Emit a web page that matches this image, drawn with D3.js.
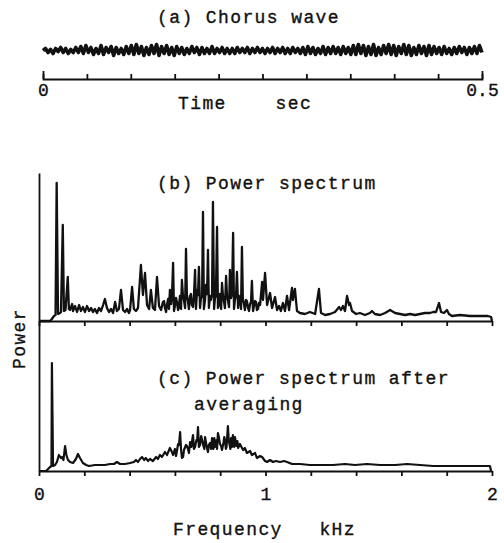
<!DOCTYPE html>
<html><head><meta charset="utf-8">
<script src="https://cdn.jsdelivr.net/npm/d3@7"></script>
<style>
html,body{margin:0;padding:0;background:#fff;}
svg text{font-family:"Liberation Mono","DejaVu Sans Mono",monospace;fill:#111;stroke:#111;stroke-width:0.35px;}
</style></head>
<body><svg id="c" width="504" height="543"></svg>
<script>
// ---------- DATA ----------
// (a) chorus waveform, relative amplitude, evenly sampled over 0..0.5 s
const waveA = [0,2,-2,1,-3,2,-1,3,-2,2,-3,1,-2,3,-2,
 4,-3,5,-2,3,-4,2,-3,5,-4,3,-2,4,-5,3,-3,2,-4,4,-3,
 5,-4,6,-3,4,-5,3,-4,5,-3,6,-5,4,-3,5,-4,3,-5,
 4,-3,3,-4,2,-3,4,-2,3,-4,3,-3,2,-3,4,-3,2,-2,3,-3,2,-3,
 2,-3,3,-2,2,-2,3,-3,2,-2,3,-2,2,-3,2,-2,3,-3,2,-2,3,-3,2,-3,3,-2,2,-3,
 3,-4,4,-3,3,-4,2,-3,4,-4,3,-3,4,-3,3,-4,4,-3,3,-4,
 5,-4,6,-3,5,-5,4,-4,6,-5,3,-4,5,-3,6,-4,5,-5,4,-3,6,-4,5,-5,3,-4,5,-3,4,-5,5,-4,
 4,-3,3,-4,4,-3,2,-4,3,-3,4,-2,3,-4,3,-3,4,-3,5,-2];
const timeDomain = [0, 0.5];
const timeTicks = [0,0.05,0.1,0.15,0.2,0.25,0.3,0.35,0.4,0.45,0.5];
const timeTickLabels = {"0":"0","0.5":"0.5"};

// (b) power spectrum: frequency (kHz) and power (relative units)
const specBFreq = [0,0.049,0.057,0.066,0.073,0.078,0.084,0.093,0.097,0.105,0.110,0.117,0.127,0.132,0.137,0.146,0.150,0.159,0.168,0.177,0.185,0.194,0.203,0.212,0.221,0.230,0.238,0.247,0.256,0.265,0.274,0.283,0.291,0.300,0.309,0.318,0.327,0.336,0.344,0.353,0.362,0.371,0.380,0.389,0.397,0.402,0.411,0.419,0.428,0.437,0.450,0.459,0.468,0.477,0.486,0.494,0.503,0.512,0.521,0.530,0.539,0.547,0.556,0.565,0.578,0.583,0.592,0.600,0.609,0.618,0.631,0.640,0.649,0.658,0.667,0.675,0.689,0.698,0.706,0.715,0.724,0.733,0.737,0.746,0.755,0.759,0.768,0.777,0.786,0.795,0.808,0.817,0.826,0.834,0.843,0.848,0.857,0.865,0.874,0.883,0.896,0.905,0.914,0.923,0.932,0.940,0.949,0.958,0.967,0.976,0.985,0.989,0.998,1.007,1.020,1.029,1.042,1.051,1.060,1.068,1.077,1.086,1.095,1.104,1.117,1.121,1.130,1.139,1.152,1.174,1.196,1.219,1.236,1.245,1.263,1.285,1.307,1.325,1.333,1.342,1.351,1.360,1.369,1.373,1.382,1.400,1.417,1.439,1.461,1.470,1.483,1.506,1.528,1.550,1.572,1.594,1.616,1.638,1.660,1.682,1.704,1.726,1.740,1.753,1.766,1.775,1.788,1.801,1.810,1.823,1.859,1.903,1.947,1.982,1.996,2.000];
const specBPower = [0,0,2,5,6,138,7,8,9,96,10,11,44,12,11,17,10,15,9,16,10,14,9,15,10,13,9,12,8,13,10,16,22,13,9,12,8,19,10,12,31,11,9,12,8,11,34,12,10,13,56,26,48,16,12,31,13,11,44,15,11,19,13,16,31,17,58,15,19,14,41,21,72,19,25,16,51,31,54,23,109,21,36,71,25,21,119,23,94,17,38,19,45,21,51,23,88,21,49,25,74,17,21,13,17,40,15,19,12,16,39,21,48,16,28,13,24,11,15,10,18,10,25,11,33,21,32,10,8,7,9,7,32,8,6,7,9,14,11,15,10,25,16,18,10,7,8,6,8,10,7,6,8,11,8,7,6,7,6,7,8,8,9,9,18,9,8,11,7,5,6,5,5,5,4,0];
// (b) extra readings of the dense noise band between the main peaks
const specBBandFreq = [0.552,0.561,0.570,0.574,0.587,0.596,0.605,0.614,0.622,0.627,0.636,0.645,0.653,0.662,0.671,0.680,0.684,0.693,0.702,0.711,0.720,0.728,0.742,0.750,0.764,0.773,0.781,0.790,0.799,0.804,0.812,0.821,0.830,0.839,0.852,0.861,0.870,0.879,0.887,0.892,0.900,0.909,0.918,0.927,0.936,0.945,0.954,0.962,0.971];
const specBBandPower = [20,9,22,12,24,10,23,11,25,12,24,13,26,12,27,14,25,12,26,13,24,12,27,13,26,12,25,13,27,12,26,13,25,14,27,12,26,13,24,12,22,11,20,10,19,10,20,11,18];

// (c) power spectrum after averaging
const specCFreq = [0,0.031,0.040,0.049,0.055,0.057,0.062,0.071,0.079,0.088,0.097,0.102,0.108,0.115,0.121,0.128,0.137,0.150,0.163,0.172,0.181,0.194,0.208,0.221,0.247,0.269,0.291,0.313,0.331,0.344,0.358,0.380,0.402,0.419,0.428,0.437,0.446,0.455,0.464,0.472,0.481,0.490,0.503,0.517,0.525,0.534,0.543,0.556,0.565,0.578,0.587,0.592,0.600,0.609,0.618,0.623,0.627,0.631,0.640,0.653,0.658,0.667,0.673,0.680,0.689,0.695,0.702,0.711,0.720,0.726,0.733,0.740,0.746,0.755,0.764,0.770,0.777,0.784,0.790,0.799,0.808,0.815,0.821,0.828,0.834,0.841,0.848,0.852,0.859,0.865,0.872,0.879,0.887,0.901,0.909,0.918,0.932,0.940,0.954,0.962,0.976,0.985,0.998,1.007,1.020,1.033,1.046,1.064,1.082,1.095,1.117,1.152,1.196,1.241,1.298,1.351,1.395,1.448,1.506,1.572,1.625,1.682,1.740,1.815,1.903,1.969,1.991,1.996];
const specCPower = [0,0,2,4,5,108,5,6,9,16,13,14,11,25,16,11,9,8,12,17,13,8,6,5,6,6,6,7,7,9,7,7,8,9,11,9,12,14,11,13,10,12,10,14,12,16,14,19,16,23,19,16,22,20,26,39,22,13,21,25,22,29,24,36,24,31,44,26,31,25,34,25,19,28,33,22,24,31,38,27,21,29,31,24,45,27,33,24,31,34,25,23,27,21,23,18,20,16,18,13,15,14,10,9,11,9,10,9,10,9,7,7,6,6,6,7,6,7,6,6,7,6,5,5,5,5,5,0];
const specCBandFreq = [0.605,0.614,0.636,0.649,0.662,0.676,0.684,0.698,0.706,0.716,0.730,0.736,0.750,0.760,0.774,0.786,0.794,0.804,0.818,0.825,0.838,0.845,0.856,0.862,0.876,0.894];
const specCBandPower = [15,27,14,26,18,30,22,30,24,35,22,30,26,22,33,22,34,25,34,22,30,22,36,24,30,24];

const freqDomain = [0, 2];
const freqTicks = [0,0.2,0.4,0.6,0.8,1,1.2,1.4,1.6,1.8,2];
const freqTickLabels = {"0":"0","1":"1","2":"2"};

// ---------- DRAW ----------
const svg = d3.select("#c");
const ink = "#111";

// (a)
const xT = d3.scaleLinear().domain(timeDomain).range([43, 482]);
const xIdx = d3.scaleLinear().domain([0, waveA.length - 1]).range(timeDomain);
const yA = d3.scaleLinear().domain([-10, 10]).range([60.5, 40.5]);
svg.append("path").datum(waveA)
  .attr("fill","none").attr("stroke",ink).attr("stroke-width",3.6).attr("stroke-linejoin","round")
  .attr("d", d3.line().x((d,i)=>xT(xIdx(i))).y(d=>yA(d)));

svg.append("g").attr("transform","translate(0,79)")
  .call(d3.axisBottom(xT).tickValues(timeTicks).tickSizeInner(-5).tickSizeOuter(-8).tickPadding(4)
    .tickFormat(d=>timeTickLabels[String(d)]||""));

// spectra
const xF = d3.scaleLinear().domain(freqDomain).range([39, 492]);
const yB = d3.scaleLinear().domain([0,150]).range([321,171]);
const yC = d3.scaleLinear().domain([0,150]).range([471,321]);

function merged(f1,p1,f2,p2){
  const pts = f1.map((f,i)=>[f,p1[i]]).concat(f2.map((f,i)=>[f,p2[i]]));
  return d3.sort(pts, d=>d[0]);
}

svg.append("path").datum(merged(specBFreq,specBPower,specBBandFreq,specBBandPower))
  .attr("fill","none").attr("stroke",ink).attr("stroke-width",2.3).attr("stroke-linejoin","round")
  .attr("d", d3.line().x(d=>xF(d[0])).y(d=>yB(d[1])));
svg.append("g").attr("transform","translate(0,321)")
  .call(d3.axisBottom(xF).tickValues(freqTicks).tickSizeInner(5).tickSizeOuter(0).tickFormat(""));

svg.append("path").datum(merged(specCFreq,specCPower,specCBandFreq,specCBandPower))
  .attr("fill","none").attr("stroke",ink).attr("stroke-width",2.2).attr("stroke-linejoin","round")
  .attr("d", d3.line().x(d=>xF(d[0])).y(d=>yC(d[1])));
svg.append("g").attr("transform","translate(0,471)")
  .call(d3.axisBottom(xF).tickValues(freqTicks).tickSizeInner(5).tickSizeOuter(0).tickPadding(11)
    .tickFormat(d=>freqTickLabels[String(d)]||""));

// shared vertical power axis
const yAll = d3.scaleLinear().domain([0,1]).range([471,173]);
svg.append("g").attr("transform","translate(39,0)")
  .call(d3.axisLeft(yAll).tickValues([]).tickSizeOuter(0));

svg.selectAll(".domain, .tick line").attr("stroke",ink).attr("stroke-width",1.8);
svg.selectAll(".tick text").attr("font-size",18).attr("fill",ink)
  .style("font-family",'"Liberation Mono","DejaVu Sans Mono",monospace');

// texts
function label(txt, x, y){
  return svg.append("text").attr("x",x).attr("y",y).attr("font-size",18)
    .attr("letter-spacing","1.4px").attr("xml:space","preserve").style("white-space","pre").text(txt);
}
label("(a) Chorus wave", 157, 23);
label("Time    sec", 178, 109);
label("(b) Power spectrum", 157, 189);
label("(c) Power spectrum after", 157, 384);
label("averaging", 194, 410);
label("Frequency   kHz", 173, 535);
svg.append("text").attr("transform","translate(25,369) rotate(-90)")
  .attr("font-size",18).attr("letter-spacing","1.4px").text("Power");
</script></body></html>
